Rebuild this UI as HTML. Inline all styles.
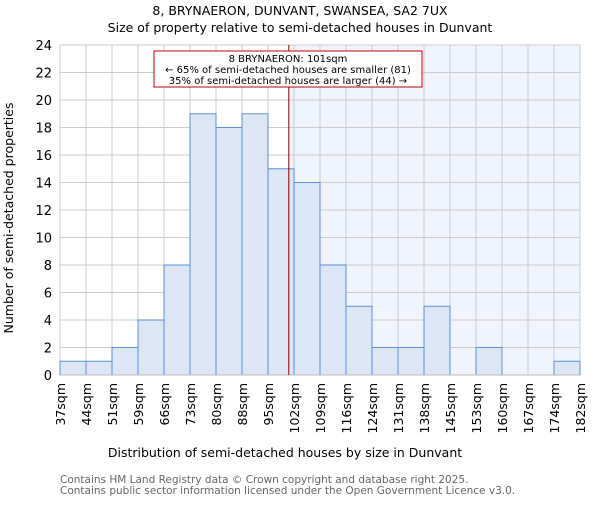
<!DOCTYPE html>
<html><head><meta charset="utf-8"><style>
body{margin:0;background:#fff;}
svg{font-family:"DejaVu Sans","Liberation Sans",sans-serif;}
</style></head><body>
<svg id="c" width="600" height="500">
<text x="300" y="15" text-anchor="middle" font-size="12.5">8, BRYNAERON, DUNVANT, SWANSEA, SA2 7UX</text>
<text x="300" y="32" text-anchor="middle" font-size="12.5">Size of property relative to semi-detached houses in Dunvant</text>
<g id="plot"></g>
<text x="285" y="457" text-anchor="middle" font-size="12.5">Distribution of semi-detached houses by size in Dunvant</text>
<text transform="translate(13,218) rotate(-90)" text-anchor="middle" font-size="12.5">Number of semi-detached properties</text>
<text x="60" y="483" font-size="10.5" fill="#666">Contains HM Land Registry data © Crown copyright and database right 2025.</text>
<text x="60" y="494" font-size="10.5" fill="#666">Contains public sector information licensed under the Open Government Licence v3.0.</text>
</svg>
<script>
const labels=["37sqm","44sqm","51sqm","59sqm","66sqm","73sqm","80sqm","88sqm","95sqm","102sqm","109sqm","116sqm","124sqm","131sqm","138sqm","145sqm","153sqm","160sqm","167sqm","174sqm","182sqm"];
const counts=[1,1,2,4,8,19,18,19,15,14,8,5,2,2,5,0,2,0,0,1];
const yTicks=[0,2,4,6,8,10,12,14,16,18,20,22,24];
const markerIndex=8.8;
const NS="http://www.w3.org/2000/svg";
const X0=60,X1=580,Y0=375,Y1=45,yMax=24;
const bw=(X1-X0)/counts.length;
const xs=i=>X0+i*bw;
const ys=v=>Y0-(v/yMax)*(Y0-Y1);
const g=document.getElementById('plot');
function mk(t,a){const e=document.createElementNS(NS,t);for(const k in a)e.setAttribute(k,a[k]);g.appendChild(e);return e;}
const mx=xs(markerIndex);
let e=mk('rect',{x:mx,y:Y1,width:X1-mx,height:Y0-Y1,fill:'#f0f4fc'});


yTicks.forEach(t=>{
 let l=mk('line',{x1:X0,x2:X1,y1:ys(t),y2:ys(t),stroke:'#ccc','stroke-width':1});
 
 
 let tx=mk('text',{x:X0-8,y:ys(t)+5,'text-anchor':'end','font-size':13});
 tx.textContent=t;
 
 
});
labels.forEach((s,i)=>{
 let l=mk('line',{x1:xs(i),x2:xs(i),y1:Y1,y2:Y0,stroke:'#ccc','stroke-width':1});
 
 
 let tx=mk('text',{transform:`translate(${xs(i)+5},${Y0+8}) rotate(-90)`,'text-anchor':'end','font-size':12.5});
 tx.textContent=s;
 
 
});
counts.forEach((v,i)=>{
 if(v<=0)return;
 let r=mk('rect',{x:xs(i),y:ys(v),width:bw,height:Y0-ys(v),fill:'#dce6f5',stroke:'#5b8fd6','stroke-width':1});
 
 
});
e=mk('line',{x1:X0,x2:X1,y1:Y0,y2:Y0,stroke:'#bbb'});


e=mk('line',{x1:mx,x2:mx,y1:Y1,y2:Y0,stroke:'#8b0000','stroke-width':1});


e=mk('rect',{x:154,y:51,width:268,height:36,fill:'#fff',stroke:'#c00000','stroke-width':1});


["8 BRYNAERON: 101sqm","← 65% of semi-detached houses are smaller (81)","35% of semi-detached houses are larger (44) →"].forEach((s,i)=>{
 let t=mk('text',{x:288,y:62+i*11,'text-anchor':'middle','font-size':10});
 t.textContent=s;
 
 
});
</script>
</body></html>
